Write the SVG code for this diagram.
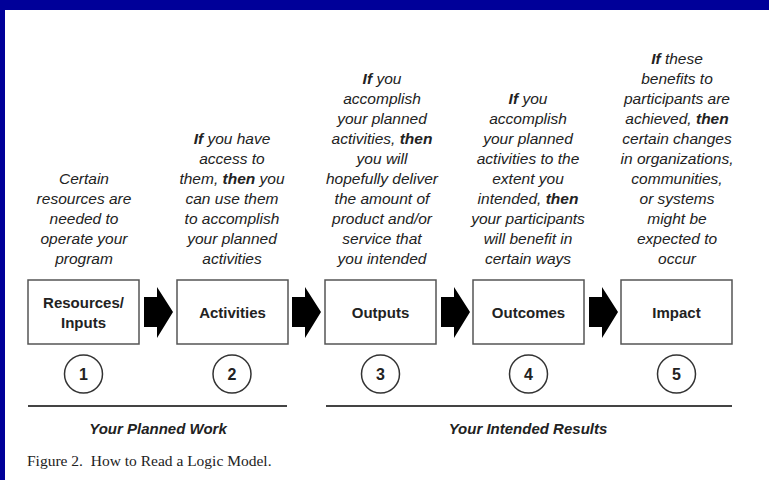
<svg xmlns="http://www.w3.org/2000/svg" width="769" height="480" viewBox="0 0 769 480">
<defs>
<style>
.desc{font-family:"Liberation Sans",Arial,sans-serif;font-style:italic;font-size:15.5px;fill:#222;text-anchor:middle}
.b{font-weight:bold}
.box{fill:#fff;stroke:#555;stroke-width:1.5}
.lbl{font-family:"Liberation Sans",Arial,sans-serif;font-weight:bold;font-size:15px;fill:#222;text-anchor:middle}
.circ{fill:#fff;stroke:#333;stroke-width:1.5}
.num{font-family:"Liberation Sans",Arial,sans-serif;font-weight:bold;font-size:16px;fill:#222;text-anchor:middle}
.grp{font-family:"Liberation Sans",Arial,sans-serif;font-weight:bold;font-style:italic;font-size:15px;fill:#222;text-anchor:middle}
.cap{font-family:"Liberation Serif","Times New Roman",serif;font-size:15.5px;fill:#222;white-space:pre}
.arrow{fill:#000}
.rule{stroke:#444;stroke-width:2}
</style>
</defs>
<rect x="0" y="0" width="769" height="480" fill="#000099"/>
<rect x="5" y="10" width="764" height="470" fill="#fff"/>

<g id="desc1">
<text class="desc" x="84" y="184">Certain</text>
<text class="desc" x="84" y="204">resources are</text>
<text class="desc" x="84" y="224">needed to</text>
<text class="desc" x="84" y="244">operate your</text>
<text class="desc" x="84" y="264">program</text>
</g>
<g id="desc2">
<text class="desc" x="232" y="144"><tspan class="b">If</tspan> you have</text>
<text class="desc" x="232" y="164">access to</text>
<text class="desc" x="232" y="184">them, <tspan class="b">then</tspan> you</text>
<text class="desc" x="232" y="204">can use them</text>
<text class="desc" x="232" y="224">to accomplish</text>
<text class="desc" x="232" y="244">your planned</text>
<text class="desc" x="232" y="264">activities</text>
</g>
<g id="desc3">
<text class="desc" x="382" y="84"><tspan class="b">If</tspan> you</text>
<text class="desc" x="382" y="104">accomplish</text>
<text class="desc" x="382" y="124">your planned</text>
<text class="desc" x="382" y="144">activities, <tspan class="b">then</tspan></text>
<text class="desc" x="382" y="164">you will</text>
<text class="desc" x="382" y="184">hopefully deliver</text>
<text class="desc" x="382" y="204">the amount of</text>
<text class="desc" x="382" y="224">product and/or</text>
<text class="desc" x="382" y="244">service that</text>
<text class="desc" x="382" y="264">you intended</text>
</g>
<g id="desc4">
<text class="desc" x="528" y="104"><tspan class="b">If</tspan> you</text>
<text class="desc" x="528" y="124">accomplish</text>
<text class="desc" x="528" y="144">your planned</text>
<text class="desc" x="528" y="164">activities to the</text>
<text class="desc" x="528" y="184">extent you</text>
<text class="desc" x="528" y="204">intended, <tspan class="b">then</tspan></text>
<text class="desc" x="528" y="224">your participants</text>
<text class="desc" x="528" y="244">will benefit in</text>
<text class="desc" x="528" y="264">certain ways</text>
</g>
<g id="desc5">
<text class="desc" x="677" y="64"><tspan class="b">If</tspan> these</text>
<text class="desc" x="677" y="84">benefits to</text>
<text class="desc" x="677" y="104">participants are</text>
<text class="desc" x="677" y="124">achieved, <tspan class="b">then</tspan></text>
<text class="desc" x="677" y="144">certain changes</text>
<text class="desc" x="677" y="164">in organizations,</text>
<text class="desc" x="677" y="184">communities,</text>
<text class="desc" x="677" y="204">or systems</text>
<text class="desc" x="677" y="224">might be</text>
<text class="desc" x="677" y="244">expected to</text>
<text class="desc" x="677" y="264">occur</text>
</g>

<g id="node1">
<rect class="box" x="28" y="280" width="111" height="64"/>
<text class="lbl" x="83.5" y="308">Resources/</text>
<text class="lbl" x="83.5" y="328">Inputs</text>
</g>
<g id="node2">
<rect class="box" x="177" y="280" width="111" height="64"/>
<text class="lbl" x="232.5" y="318">Activities</text>
</g>
<g id="node3">
<rect class="box" x="325" y="280" width="111" height="64"/>
<text class="lbl" x="380.5" y="318">Outputs</text>
</g>
<g id="node4">
<rect class="box" x="473" y="280" width="111" height="64"/>
<text class="lbl" x="528.5" y="318">Outcomes</text>
</g>
<g id="node5">
<rect class="box" x="621" y="280" width="111" height="64"/>
<text class="lbl" x="676.5" y="318">Impact</text>
</g>

<g id="connectors">
<polygon class="arrow" points="144,297 157,297 157,287 173,312 157,338 157,327 144,327"/>
<polygon class="arrow" points="292,297 305,297 305,287 321,312 305,338 305,327 292,327"/>
<polygon class="arrow" points="441,297 454,297 454,287 470,312 454,338 454,327 441,327"/>
<polygon class="arrow" points="589,297 602,297 602,287 618,312 602,338 602,327 589,327"/>
</g>

<g id="num1"><circle class="circ" cx="83.5" cy="374" r="19"/><text class="num" x="83.5" y="380">1</text></g>
<g id="num2"><circle class="circ" cx="232" cy="374" r="19"/><text class="num" x="232" y="380">2</text></g>
<g id="num3"><circle class="circ" cx="380.5" cy="374" r="19"/><text class="num" x="380.5" y="380">3</text></g>
<g id="num4"><circle class="circ" cx="528.5" cy="374" r="19"/><text class="num" x="528.5" y="380">4</text></g>
<g id="num5"><circle class="circ" cx="676.5" cy="374" r="19"/><text class="num" x="676.5" y="380">5</text></g>

<g id="planned">
<line class="rule" x1="28" y1="406" x2="287" y2="406"/>
<text class="grp" x="158" y="434">Your Planned Work</text>
</g>
<g id="results">
<line class="rule" x1="326" y1="406" x2="732" y2="406"/>
<text class="grp" x="528" y="434">Your Intended Results</text>
</g>
<text class="cap" x="27" y="466" xml:space="preserve">Figure 2.  How to Read a Logic Model.</text>
</svg>
